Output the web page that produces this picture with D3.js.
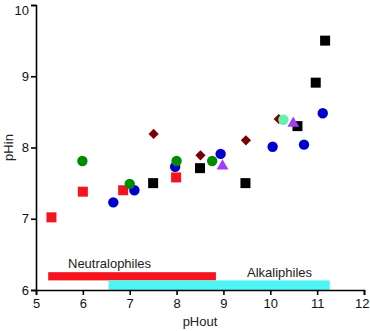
<!DOCTYPE html>
<html lang="en">
<head>
<meta charset="utf-8">
<title>pHin vs pHout</title>
<script src="https://cdn.jsdelivr.net/npm/d3@7"></script>
<style>
  body { margin: 0; background: #fff; }
  text { font-family: "Liberation Sans", Arial, sans-serif; }
</style>
</head>
<body>
<script>

// Data (pHout, pHin)
var blackSquares = [[7.5,7.5],[8.5,7.71],[9.47,7.5],[10.58,8.3],[10.97,8.91],[11.17,9.5]];
var redSquares   = [[5.33,7.02],[6.0,7.38],[6.86,7.4],[7.99,7.58]];
var blueCircles  = [[6.65,7.23],[7.1,7.4],[7.97,7.73],[8.94,7.91],[10.05,8.01],[10.72,8.04],[11.12,8.48]];
var greenCircles = [[5.99,7.81],[7.0,7.49],[8.0,7.81],[8.76,7.81]];
var diamonds     = [[7.51,8.19],[8.51,7.89],[9.48,8.1],[10.18,8.4]];
var aquaCircles  = [[10.28,8.39]];
var triangles    = [[8.98,7.74],[10.49,8.34]];

// range bars: label, x from, x to, y from, y to
var ranges = [
  {name: "Neutralophiles", x0: 5.26, x1: 8.84, y0: 6.135, y1: 6.25},
  {name: "Alkaliphiles",   x0: 6.55, x1: 11.27, y0: 6.0,  y1: 6.135}
];

var xTicks = [5,6,7,8,9,10,11,12];
var yTicks = [6,7,8,9,10];

/*********************************************************************/
// Canvas

var width = 370, height = 331;
var margin = {left: 36, right: 6, top: 5, bottom: 41};

var svg = d3.select("body").append("svg")
	.attr("width", width)
	.attr("height", height);

var x = d3.scaleLinear().domain([5,12]).range([margin.left, width - margin.right]);
var y = d3.scaleLinear().domain([6,10]).range([height - margin.bottom, margin.top]);

/*********************************************************************/
// Range bars

svg.selectAll(".range")
	.data(ranges)
	.enter().append("rect")
	.attr("x", function(d){ return x(d.x0); })
	.attr("y", function(d){ return y(d.y1); })
	.attr("width", function(d){ return x(d.x1) - x(d.x0); })
	.attr("height", function(d){ return y(d.y0) - y(d.y1); })
	.style("fill", function(d, i){ return i == 0 ? "#f5141e" : "#4ff5f5"; });

svg.append("text")
	.attr("x", 68).attr("y", 268)
	.style("font-size", "13px").style("fill", "#222")
	.text(ranges[0].name);

svg.append("text")
	.attr("x", 247).attr("y", 277)
	.style("font-size", "13px").style("fill", "#222")
	.text(ranges[1].name);

/*********************************************************************/
// Axes

var xAxis = svg.append("g")
	.attr("transform", "translate(0," + y(6) + ")")
	.call(d3.axisBottom(x).tickValues(xTicks).tickSize(5).tickFormat(d3.format("d")));

var yAxis = svg.append("g")
	.attr("transform", "translate(" + x(5) + ",0)")
	.call(d3.axisLeft(y).tickValues(yTicks).tickSize(5).tickFormat(d3.format("d")));

[xAxis, yAxis].forEach(function(a){
	a.select(".domain").style("stroke", "#000").style("stroke-width", 1.6);
	a.selectAll(".tick line").style("stroke", "#000").style("stroke-width", 1.6);
	a.selectAll(".tick text")
		.style("font-family", "Liberation Sans, Arial, sans-serif")
		.style("font-size", "13px").style("fill", "#111");
});
xAxis.selectAll(".tick text").attr("y", 9);
yAxis.selectAll(".tick text").attr("x", -7);
// keep the end labels inside the window
xAxis.selectAll(".tick text").filter(function(d){ return d == 12; }).attr("text-anchor", "end").attr("dx", 5);
yAxis.selectAll(".tick text").filter(function(d){ return d == 10; }).attr("dy", "0.7em");

svg.append("text")
	.attr("x", x(8.5)).attr("y", 326)
	.attr("text-anchor", "middle")
	.style("font-size", "13px").style("fill", "#222")
	.text("pHout");

svg.append("text")
	.attr("transform", "translate(13," + y(8) + ") rotate(-90)")
	.attr("text-anchor", "middle")
	.style("font-size", "13px").style("fill", "#222")
	.text("pHin");

/*********************************************************************/
// Points

function drawSymbols(data, type, size, color, rot){
	svg.append("g").selectAll("path")
		.data(data)
		.enter().append("path")
		.attr("transform", function(d){ return "translate(" + x(d[0]) + "," + y(d[1]) + ") rotate(" + (rot || 0) + ")"; })
		.attr("d", d3.symbol().type(type).size(size))
		.style("fill", color);
}

drawSymbols(blackSquares, d3.symbolSquare, 100, "#000");
drawSymbols(redSquares, d3.symbolSquare, 100, "#f5141e");
drawSymbols(blueCircles, d3.symbolCircle, 85, "#0000cc");
drawSymbols(greenCircles, d3.symbolCircle, 85, "#008c00");
drawSymbols(diamonds, d3.symbolSquare, 52, "#7a0000", 45);
drawSymbols(aquaCircles, d3.symbolCircle, 85, "#66f0b0");
drawSymbols(triangles, d3.symbolTriangle, 60, "#a040f0");

</script>
</body>
</html>
